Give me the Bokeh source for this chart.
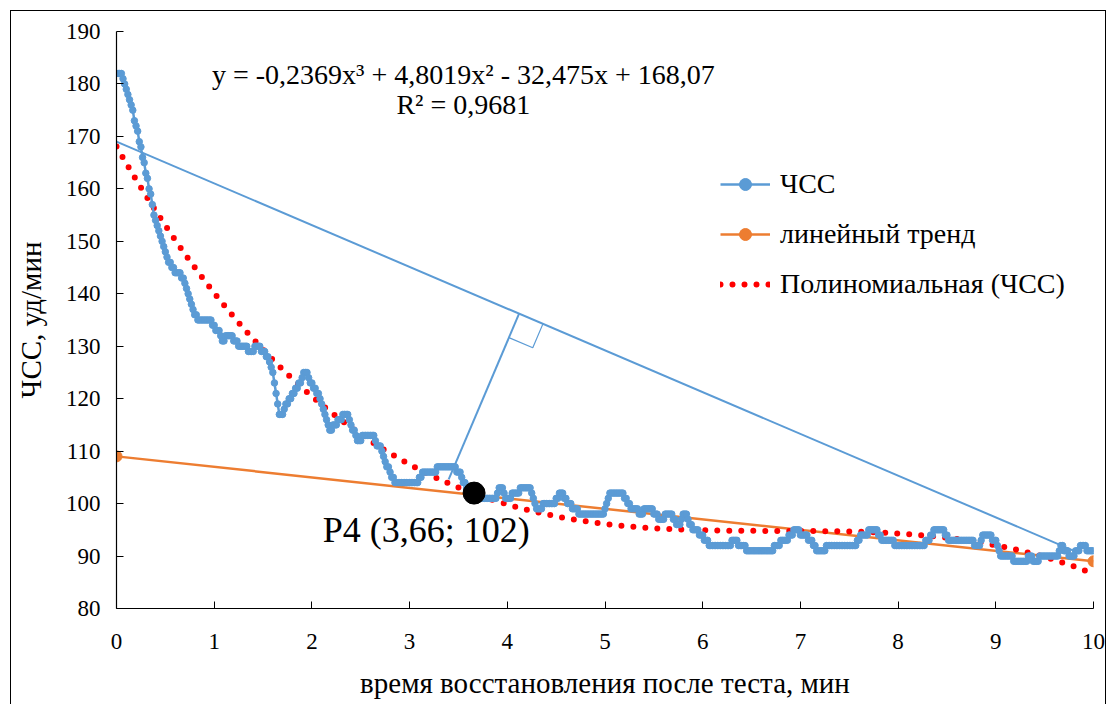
import numpy as np
from bokeh.plotting import figure
from bokeh.models import Legend, LegendItem, Label
from bokeh.embed import file_html
from bokeh.resources import INLINE

# ---------------- data ----------------
# heart rate as runs of (value, duration in seconds), 1-second samples from 0 to 600 s
hr_levels = [
    182, 181, 180, 179, 178, 177, 176, 175, 173, 172, 171, 169, 168, 166, 165, 163,
    162, 160, 159, 157, 155, 154, 153, 152, 151, 150, 149, 148, 147, 146, 145, 144,
    143, 142, 141, 140, 139, 138, 137, 136, 135, 134, 133, 132, 131, 132, 131, 130,
    129, 130, 129, 128, 127, 126, 125, 123, 121, 119, 117, 118, 119, 120, 121, 122,
    123, 124, 125, 124, 123, 122, 121, 120, 119, 118, 117, 116, 115, 114, 115, 116,
    117, 116, 115, 114, 113, 112, 113, 112, 111, 110, 109, 108, 107, 106, 105, 104,
    105, 106, 107, 106, 105, 104, 103, 102, 101, 102, 103, 102, 101, 102, 103, 102,
    101, 100, 99, 100, 101, 102, 101, 100, 99, 98, 99, 100, 101, 102, 101, 100,
    99, 98, 99, 98, 97, 98, 97, 96, 97, 98, 97, 96, 95, 94, 93, 92,
    93, 92, 91, 92, 93, 94, 95, 94, 93, 92, 91, 92, 93, 94, 95, 94,
    93, 92, 93, 94, 95, 94, 93, 92, 93, 94, 93, 92, 91, 90, 89, 90,
    89, 90, 91, 92, 91, 90, 91, 92, 91,
]
hr_durations = [
    4, 1, 1, 1, 1, 1, 1, 1, 1, 1, 1, 1, 1, 1, 1, 1,
    1, 1, 1, 1, 1, 1, 1, 1, 1, 1, 1, 1, 1, 2, 2, 4,
    2, 1, 1, 1, 1, 1, 1, 2, 9, 2, 3, 1, 2, 5, 3, 6,
    4, 4, 3, 2, 1, 1, 1, 1, 1, 1, 3, 1, 2, 2, 2, 2,
    2, 1, 3, 1, 2, 2, 2, 1, 1, 1, 1, 1, 1, 2, 3, 3,
    4, 1, 1, 2, 1, 3, 8, 1, 3, 1, 1, 1, 2, 1, 2, 15,
    2, 9, 12, 3, 1, 2, 2, 5, 12, 1, 3, 1, 4, 5, 7, 1,
    1, 1, 4, 8, 2, 3, 2, 3, 4, 16, 1, 1, 1, 9, 2, 2,
    5, 3, 6, 3, 4, 5, 2, 3, 1, 3, 1, 2, 4, 3, 3, 14,
    4, 5, 17, 4, 5, 3, 4, 5, 3, 2, 6, 19, 2, 5, 6, 2,
    8, 19, 3, 2, 7, 2, 16, 4, 1, 6, 3, 1, 1, 8, 9, 3,
    4, 12, 1, 2, 3, 4, 3, 4, 5,
]

chord_x = [0.0, 9.8]          # line from the start of recovery to the end
chord_y = [169.0, 91.0]
trend_x = [0.0, 10.0]         # linear trend
trend_y = [109.0, 89.0]
poly_coef = [-0.2369, 4.8019, -32.475, 168.07]   # cubic fit (ЧСС)
perp_start = (3.40, 104.6)    # point of the curve farthest from the chord
p4_point = (3.66, 102.0)

x_ticks = list(range(0, 11))
y_ticks = list(range(80, 191, 10))

hr_values = np.repeat(hr_levels, hr_durations)
hr_time = np.arange(len(hr_values)) / 60.0

FONT = "Liberation Serif"
BLUE = "#5B9BD5"
ORANGE = "#ED7D31"
RED = "#FF0000"

X0, X1, Y0, Y1 = 0, 10, 80, 190
W, H = 1096, 694
BL, BR, BT, BB = 102, 14, 20, 97
FW, FH = W - BL - BR, H - BT - BB

p = figure(width=W, height=H, x_range=(X0, X1), y_range=(Y0, Y1),
           output_backend="svg", toolbar_location=None,
           min_border_left=BL, min_border_right=BR,
           min_border_top=BT, min_border_bottom=BB)
p.styles = {"margin-left": "10px", "margin-top": "10px",
            "border-left": "1.5px solid black", "border-top": "1.5px solid black",
            "border-right": "1.5px solid black"}
p.outline_line_color = None
p.xgrid.visible = False
p.ygrid.visible = False

for ax in (p.xaxis[0], p.yaxis[0]):
    ax.major_tick_in = 7
    ax.major_tick_out = 0
    ax.minor_tick_line_color = None
    ax.axis_line_color = "black"
    ax.axis_line_width = 1.2
    ax.major_tick_line_color = "black"
    ax.major_label_text_font = FONT
    ax.major_label_text_font_size = "23px"
    ax.major_label_text_color = "black"
    ax.axis_label_text_font = FONT
    ax.axis_label_text_font_size = "29px"
    ax.axis_label_text_font_style = "normal"
    ax.axis_label_text_color = "black"

p.xaxis.ticker = x_ticks
p.yaxis.ticker = y_ticks
p.xaxis.axis_label = "время восстановления после теста, мин"
p.yaxis.axis_label = "ЧСС, уд/мин"
p.xaxis.major_label_standoff = 25
p.yaxis.major_label_standoff = 16
p.xaxis.axis_label_standoff = 15
p.yaxis.axis_label_standoff = 16

# chord line
p.line(chord_x, chord_y, line_color=BLUE, line_width=2)

# perpendicular and right-angle mark (computed in screen-proportional space)
kx = FW / (X1 - X0)
ky = FH / (Y1 - Y0)
P0 = np.array([chord_x[0] * kx, chord_y[0] * ky])
P1 = np.array([chord_x[1] * kx, chord_y[1] * ky])
Q = np.array([perp_start[0] * kx, perp_start[1] * ky])
u = (P1 - P0) / np.linalg.norm(P1 - P0)
F = P0 + np.dot(Q - P0, u) * u
n = (Q - F) / np.linalg.norm(Q - F)
s = 26.0
A = F + s * u
C = F + s * n
B = A + C - F
p.line([Q[0] / kx, F[0] / kx], [Q[1] / ky, F[1] / ky], line_color=BLUE, line_width=2)
p.line([C[0] / kx, B[0] / kx, A[0] / kx], [C[1] / ky, B[1] / ky, A[1] / ky],
       line_color=BLUE, line_width=1.2)

# linear trend
r_trend_l = p.line(trend_x, trend_y, line_color=ORANGE, line_width=2.5)
r_trend_m = p.scatter(trend_x, trend_y, size=11, color=ORANGE)

# polynomial trend (dotted)
xs = np.linspace(0, 10, 600)
ys = np.polyval(poly_coef, xs)
r_poly = p.line(xs, ys, line_color=RED, line_width=6, line_dash="0 12", line_cap="round")

# heart rate
r_hr_l = p.line(hr_time, hr_values, line_color=BLUE, line_width=2.5)
r_hr_m = p.scatter(hr_time, hr_values, size=6.5, color=BLUE)

# point P4
p.scatter([p4_point[0]], [p4_point[1]], size=22, color="black")

p.add_layout(Label(x=3.55, y=181.8, text="y = -0,2369x³ + 4,8019x² - 32,475x + 168,07",
                   text_font=FONT, text_font_size="28px", text_align="center",
                   text_baseline="middle", text_color="black"))
p.add_layout(Label(x=3.55, y=176.1, text="R² = 0,9681",
                   text_font=FONT, text_font_size="28px", text_align="center",
                   text_baseline="middle", text_color="black"))
p.add_layout(Label(x=3.17, y=95.0, text="P4 (3,66; 102)",
                   text_font=FONT, text_font_size="36px", text_align="center",
                   text_baseline="middle", text_color="black"))

legend = Legend(items=[
    LegendItem(label="ЧСС", renderers=[r_hr_l, r_hr_m]),
    LegendItem(label="линейный тренд", renderers=[r_trend_l, r_trend_m]),
    LegendItem(label="Полиномиальная (ЧСС)", renderers=[r_poly]),
], location=(604, 308))
legend.border_line_color = None
legend.background_fill_alpha = 0
legend.padding = 0
legend.margin = 0
legend.label_text_font = FONT
legend.label_text_font_size = "28px"
legend.label_text_color = "black"
legend.glyph_width = 50
legend.glyph_height = 30
legend.label_height = 30
legend.spacing = 18
legend.label_standoff = 10
p.add_layout(legend)

open("out.html", "w").write(file_html(p, INLINE))
